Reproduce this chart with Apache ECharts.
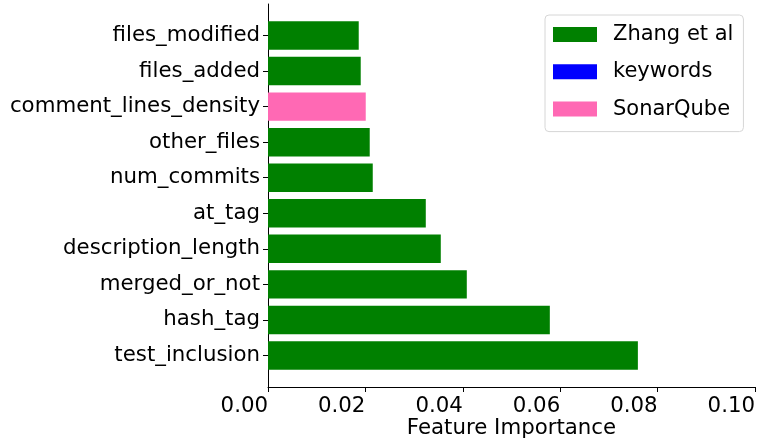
<!DOCTYPE html>
<html>
<head>
<meta charset="utf-8">
<script src="https://cdn.jsdelivr.net/npm/echarts@6/dist/echarts.min.js"></script>
<style>
  html, body { margin: 0; padding: 0; background: #fff; }
  #chart { width: 757px; height: 445px; }
</style>
</head>
<body>
<div id="chart"></div>
<script>
// Features, listed bottom to top
const features = [
  'test_inclusion', 'hash_tag', 'merged_or_not', 'description_length', 'at_tag',
  'num_commits', 'other_files', 'comment_lines_density', 'files_added', 'files_modified'
];
// Feature importance per feature source ('-' = feature not in that source)
const zhangValues = [0.07595, 0.05787, 0.04082, 0.03548, 0.0324, 0.02151, 0.02089, '-', 0.01904, 0.01863];
const keywordValues = ['-', '-', '-', '-', '-', '-', '-', '-', '-', '-'];
const sonarValues = ['-', '-', '-', '-', '-', '-', '-', 0.02007, '-', '-'];
const xTicks = { min: 0, max: 0.1, interval: 0.02 };

const FONT = 'DejaVu Sans';
const FS = 21.3;
const chart = echarts.init(document.getElementById('chart'), null, { renderer: 'canvas' });

chart.setOption({
  animation: false,
  textStyle: { fontFamily: FONT },
  grid: [
    // bar bands
    { left: 268, right: 2, top: 17.7, bottom: 71.7, containLabel: false, outerBoundsMode: 'none' },
    // frame carrying the spines and the value axis
    { left: 268, right: 2, top: 4, bottom: 58, containLabel: false, outerBoundsMode: 'none' }
  ],
  xAxis: [
    {
      gridIndex: 0, type: 'value', min: xTicks.min, max: xTicks.max, show: false
    },
    {
      gridIndex: 1, type: 'value', min: xTicks.min, max: xTicks.max, interval: xTicks.interval,
      name: 'Feature Importance', nameLocation: 'middle', nameGap: 31, nameMoveOverlap: false,
      nameTextStyle: { fontFamily: FONT, fontSize: FS, color: '#000' },
      axisLine: { show: true, lineStyle: { color: '#000', width: 1 } },
      axisTick: { show: true, length: 5, lineStyle: { color: '#000', width: 1 } },
      axisLabel: {
        fontFamily: FONT, fontSize: FS, color: '#000', margin: 9, align: 'right',
        formatter: v => v.toFixed(2)
      },
      splitLine: { show: false }
    }
  ],
  yAxis: [
    {
      gridIndex: 0, type: 'category', data: features,
      axisLine: { show: false },
      axisTick: { show: true, alignWithLabel: true, length: 5, lineStyle: { color: '#000', width: 1 } },
      axisLabel: { fontFamily: FONT, fontSize: FS, color: '#000', margin: 8 }
    },
    {
      gridIndex: 1, type: 'value', min: 0, max: 1,
      axisLine: { show: true, lineStyle: { color: '#000', width: 1 } },
      axisTick: { show: false }, axisLabel: { show: false }, splitLine: { show: false }
    }
  ],
  legend: {
    orient: 'vertical',
    left: 545, top: 15,
    padding: [9, 10, 12, 8],
    itemWidth: 44, itemHeight: 15, itemGap: 16.3,
    icon: 'rect',
    backgroundColor: '#fff',
    borderColor: '#d6d6d6', borderWidth: 1, borderRadius: 4,
    textStyle: { fontFamily: FONT, fontSize: 21, color: '#000', lineHeight: 15, padding: [0, 0, 0, 11] },
    data: ['Zhang et al', 'keywords', 'SonarQube']
  },
  series: [
    {
      name: 'Zhang et al', type: 'bar', stack: 'src', xAxisIndex: 0, yAxisIndex: 0,
      barWidth: '80%', itemStyle: { color: '#008000' }, data: zhangValues
    },
    {
      name: 'keywords', type: 'bar', stack: 'src', xAxisIndex: 0, yAxisIndex: 0,
      barWidth: '80%', itemStyle: { color: '#0000ff' }, data: keywordValues
    },
    {
      name: 'SonarQube', type: 'bar', stack: 'src', xAxisIndex: 0, yAxisIndex: 0,
      barWidth: '80%', itemStyle: { color: '#ff69b4' }, data: sonarValues
    }
  ]
});
</script>
</body>
</html>
